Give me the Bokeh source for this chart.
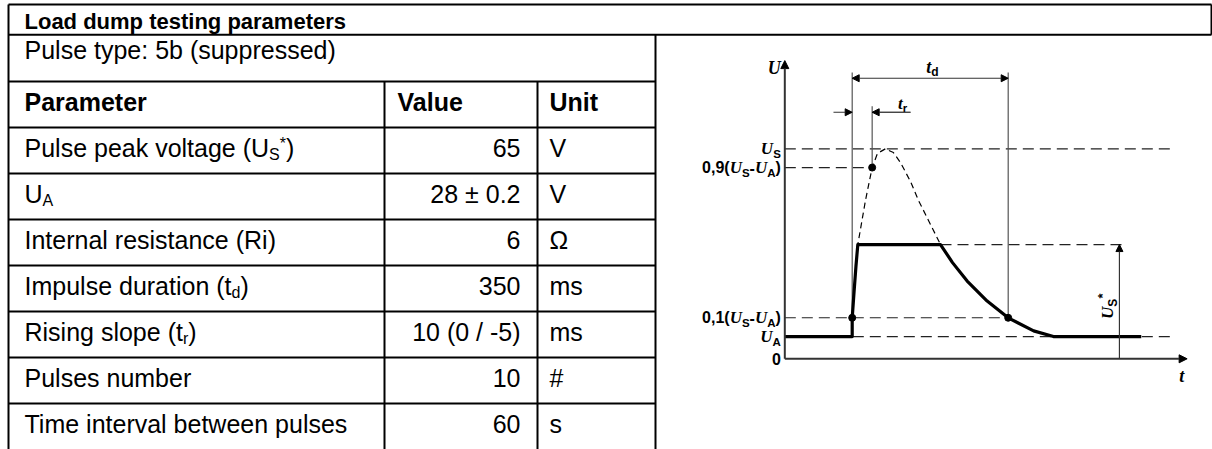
import math
from bokeh.plotting import figure
from bokeh.models import Range1d, Arrow, NormalHead
from bokeh.embed import file_html
from bokeh.resources import INLINE
from bokeh.core.properties import value

# ---------------- table content ----------------
TITLE = "Load dump testing parameters"
PULSE_TYPE = "Pulse type: 5b (suppressed)"
HEADERS = ["Parameter", "Value", "Unit"]
# parameter names as rich-text runs: (text, kind) kind: n = normal, sub, sup
PARAMETERS = [
    [("Pulse peak voltage (U", "n"), ("S", "sub"), ("*", "sup"), (")", "n")],
    [("U", "n"), ("A", "sub")],
    [("Internal resistance (Ri)", "n")],
    [("Impulse duration (t", "n"), ("d", "sub"), (")", "n")],
    [("Rising slope (t", "n"), ("r", "sub"), (")", "n")],
    [("Pulses number", "n")],
    [("Time interval between pulses", "n")],
]
VALUES = ["65", "28 \u00b1 0.2", "6", "350", "10 (0 / -5)", "10", "60"]
UNITS = ["V", "V", "\u03a9", "ms", "ms", "#", "s"]

# ---------------- pulse diagram (schematic units: t_d = 100, U_S = 100) ----------------
U_S = 100.0
U_A = 10.6
U_S_STAR = 54.4
LEVEL_01 = U_A + 0.1 * (U_S - U_A)
LEVEL_09 = U_A + 0.9 * (U_S - U_A)
T_D = 100.0
T_09 = 12.8
T_AXIS = -43.2          # time where the U axis stands
T_AXIS_END = 214.7      # end of the t axis
U_AXIS_TOP = 142.0
T_PLATEAU_END = 56.6
T_LINE_END = 207.2      # end of long dashed reference lines
T_STAR_LINE_END = 175.8
T_STAR_ARROW = 171.3
U_TD_ARROW = 133.6
U_TD_TOP = 136.3
U_TR_ARROW = 117.4
U_TR_TOP = 120.3
T_TR_LEFT = -12.0
T_TR_RIGHT = 37.4

# suppressed pulse (solid, thick)
SUPP_T = [-43.2, 0.0, 0.0, 1.2, 2.4, 3.6, 56.6, 64.3, 73.7, 86.5, 100.0, 116.3, 129.0, 185.3]
SUPP_U = [10.6, 10.6, 19.5, 32.0, 44.0, 54.4, 54.4, 45.8, 37.0, 27.5, 19.5, 13.3, 10.6, 10.6]
# unsuppressed pulse (dashed)
FREE_T = [0.0, 3.6, 8.5, 12.8, 16.2, 21.3, 26.4, 30.9, 37.4, 42.5, 48.9, 56.6]
FREE_U = [19.5, 54.4, 75.4, 91.1, 97.8, 100.0, 98.2, 93.5, 84.4, 75.4, 65.9, 54.4]

LEVEL_VALUES = [U_S, LEVEL_09, LEVEL_01, U_A, 0.0]
LEVEL_LABELS = [
    [("U", "I"), ("S", "s")],
    [("0,9(", "B"), ("U", "I"), ("S", "s"), ("-", "B"), ("U", "I"), ("A", "s"), (")", "B")],
    [("0,1(", "B"), ("U", "I"), ("S", "s"), ("-", "B"), ("U", "I"), ("A", "s"), (")", "B")],
    [("U", "I"), ("A", "s")],
    [("0", "B")],
]

# ---------------- font metrics (Arial / Times compatible, per 1000 em) ----------------
MET = {
    "reg": {" ": 278, "(": 333, ")": 333, "*": 389, "A": 667, "I": 278, "P": 667, "R": 722,
            "S": 667, "U": 722, "a": 556, "c": 500, "d": 556, "e": 556, "g": 556, "i": 222,
            "k": 500, "l": 222, "m": 833, "n": 556, "o": 556, "p": 556, "r": 333, "s": 500,
            "t": 278, "u": 556, "v": 500, "y": 500},
    "bold": {"0": 556, "1": 556, "9": 556, ",": 278, "(": 333, ")": 333, "-": 333,
             "S": 667, "A": 722, "d": 611, "r": 389, "*": 389},
    "bi": {"U": 722, "t": 278},
}
# distance from baseline to em-box middle (fraction of font size)
MID = {"Liberation Sans": 0.3465, "Liberation Serif": 0.3375}

SANS = "Liberation Sans"
SERIF = "Liberation Serif"


def tw(s, metric, size):
    return sum(MET[metric].get(c, 556) for c in s) * size / 1000.0


# ---------------- figure (coordinates = reference pixel grid) ----------------
W, H = 1212, 449
X0, X1 = 0.0, 1212.0
YB, YT = 449.0, 0.0
p = figure(width=W, height=H, x_range=Range1d(X0, X1), y_range=Range1d(YB, YT),
           x_axis_type=None, y_axis_type=None, output_backend="svg",
           toolbar_location=None, min_border=0)
p.outline_line_color = None
p.background_fill_color = "white"
p.border_fill_color = "white"

# diagram ranges
OX, SX = 851.7, 1.56
OY, SY = 358.3, 2.1
p.extra_x_ranges = {"t": Range1d((X0 - OX) / SX, (X1 - OX) / SX)}
p.extra_y_ranges = {"u": Range1d((OY - YB) / SY, (OY - YT) / SY)}


def DX(t):
    return OX + SX * t


def DY(u):
    return OY - SY * u


def piece(x, y, txt, fam, style, size, angle=0.0, align="left"):
    # (x, y) = start of the text on its baseline
    m = MID[fam] * size
    if angle == 0.0:
        xm, ym = x, y - m
    else:
        xm, ym = x - m, y
    p.text(x=[xm], y=[ym], text=[txt], text_font=value(fam), text_font_style=style,
           text_font_size=f"{size}px", text_align=align, text_baseline="middle",
           text_color="black", angle=angle)


def run(x, y, pieces, align="left", angle=0.0):
    # pieces: (text, family, style, size, metric, dy)
    total = sum(tw(t, m, sz) for (t, f, st, sz, m, dy) in pieces)
    if angle == 0.0:
        cx = x - total if align == "right" else (x - total / 2 if align == "center" else x)
        for (t, f, st, sz, m, dy) in pieces:
            piece(cx, y + dy, t, f, st, sz)
            cx += tw(t, m, sz)
    else:
        cy = y
        for (t, f, st, sz, m, dy) in pieces:
            piece(x + dy, cy, t, f, st, sz, angle)
            cy -= tw(t, m, sz)


# ---------------- table ----------------
COL = [8.0, 384.0, 537.0, 655.0]
TOP, TITLE_BOT, TYPE_BOT, HEAD_BOT, ROW_H, BOTTOM = 4.0, 34.3, 81.0, 127.0, 46.0, 449.0
TITLE_RIGHT = 1211.0
FS = 25
BASE_OFF = 29.0

hx0 = [COL[0], COL[0], COL[0]]
hx1 = [TITLE_RIGHT, TITLE_RIGHT, COL[3]]
hy = [TOP, TITLE_BOT, TYPE_BOT]
for i in range(len(VALUES)):
    hx0.append(COL[0]); hx1.append(COL[3]); hy.append(HEAD_BOT + i * ROW_H)
p.segment(x0=hx0, y0=hy, x1=hx1, y1=hy, line_color="black", line_width=2)
vx = [COL[0], COL[1], COL[2], COL[3], TITLE_RIGHT]
vy0 = [TOP, TYPE_BOT, TYPE_BOT, TITLE_BOT, TOP]
vy1 = [BOTTOM, BOTTOM, BOTTOM, BOTTOM, TITLE_BOT]
p.segment(x0=vx, y0=vy0, x1=vx, y1=vy1, line_color="black", line_width=2)

PAD_L = 24.0
VAL_R = 520.0
UNIT_L = 549.0
HEAD_L = 397.0

piece(PAD_L, 28.5, TITLE, SANS, "bold", 22)
piece(PAD_L, 58.0, PULSE_TYPE, SANS, "normal", FS)
hb = TYPE_BOT + BASE_OFF
piece(PAD_L, hb, HEADERS[0], SANS, "bold", FS)
piece(HEAD_L, hb, HEADERS[1], SANS, "bold", FS)
piece(UNIT_L, hb, HEADERS[2], SANS, "bold", FS)

KIND = {"n": (FS, 0.0), "sub": (16, 4.0), "sup": (16, -7.0)}
for i, runs in enumerate(PARAMETERS):
    base = HEAD_BOT + i * ROW_H + BASE_OFF
    pcs = [(t, SANS, "normal", KIND[k][0], "reg", KIND[k][1]) for (t, k) in runs]
    run(PAD_L, base, pcs)
    piece(VAL_R, base, VALUES[i], SANS, "normal", FS, align="right")
    piece(UNIT_L, base, UNITS[i], SANS, "normal", FS)

# ---------------- diagram ----------------
R = dict(x_range_name="t", y_range_name="u")
DASH = "11 6"

# dashed reference levels
p.segment(x0=[T_AXIS, T_AXIS, T_PLATEAU_END, T_AXIS, T_AXIS],
          x1=[T_LINE_END, T_09, T_STAR_LINE_END, T_D, T_LINE_END],
          y0=[U_S, LEVEL_09, U_S_STAR, LEVEL_01, U_A],
          y1=[U_S, LEVEL_09, U_S_STAR, LEVEL_01, U_A],
          line_color="#222222", line_width=1.2, line_dash=DASH, **R)

# thin vertical marker lines
p.segment(x0=[0.0, T_D, T_09], x1=[0.0, T_D, T_09],
          y0=[LEVEL_01, LEVEL_01, LEVEL_09], y1=[U_TD_TOP, U_TD_TOP, U_TR_TOP],
          line_color="#555555", line_width=1.2, **R)
# t_r underline
p.segment(x0=[T_09], x1=[T_TR_RIGHT], y0=[U_TR_ARROW], y1=[U_TR_ARROW],
          line_color="#555555", line_width=1.2, **R)

# unsuppressed pulse (dashed) and suppressed pulse (solid)
p.line(FREE_T, FREE_U, line_color="black", line_width=1.2, line_dash="6 4", **R)
p.line(SUPP_T, SUPP_U, line_color="black", line_width=3.2, line_join="round", **R)

# marker dots
p.scatter(x=[0.0, T_09, T_D], y=[LEVEL_01, LEVEL_09, LEVEL_01], size=7,
          fill_color="black", line_color="black", **R)


def arrow(x0, y0, x1, y1, lw=1.2, size=7, both=False, color="#333333"):
    head = lambda: NormalHead(size=size, fill_color="black", line_color="black", line_width=1)
    a = Arrow(x_start=x0, y_start=y0, x_end=x1, y_end=y1, line_color=color, line_width=lw,
              end=head(), start=head() if both else None, **R)
    p.add_layout(a)


arrow(T_AXIS, 0.0, T_AXIS, U_AXIS_TOP, lw=2, size=8)
arrow(T_AXIS, 0.0, T_AXIS_END, 0.0, lw=2, size=8)
arrow(T_STAR_ARROW, 0.0, T_STAR_ARROW, U_S_STAR)
arrow(0.0, U_TD_ARROW, T_D, U_TD_ARROW, both=True)
arrow(T_TR_LEFT, U_TR_ARROW, 0.0, U_TR_ARROW)
arrow(T_TR_RIGHT, U_TR_ARROW, T_09, U_TR_ARROW)

# labels
DSTY = {"I": (SERIF, "bold italic", 17, "bi", 0.0),
        "B": (SANS, "bold", 16, "bold", 0.0),
        "s": (SANS, "bold", 11.5, "bold", 3.5)}


def mk(parts):
    return [(t,) + DSTY[k] for (t, k) in parts]


LBL_R = DX(T_AXIS) - 4.0
for lv, parts in zip(LEVEL_VALUES, LEVEL_LABELS):
    run(LBL_R, DY(lv) + 5.5, mk(parts), align="right")

run(LBL_R, DY(U_AXIS_TOP) + 13.0, [("U", SERIF, "bold italic", 18, "bi", 0.0)], align="right")
run(DX(T_AXIS_END) - 8.0, DY(0.0) + 23.5, [("t", SERIF, "bold italic", 18, "bi", 0.0)])
run(DX(T_D / 2) - 4.0, DY(U_TD_TOP) + 0.5,
    [("t", SERIF, "bold italic", 18, "bi", 0.0), ("d", SANS, "bold", 12, "bold", 3.5)])
run(DX(T_TR_RIGHT) - 12.5, DY(U_TR_ARROW) - 3.5,
    [("t", SERIF, "bold italic", 17, "bi", 0.0), ("r", SANS, "bold", 11.5, "bold", 3.0)])
run(DX(T_STAR_ARROW) - 6.0, DY(19.0),
    [("U", SERIF, "bold italic", 17, "bi", 0.0), ("S", SANS, "bold", 12, "bold", 3.5),
     ("*", SANS, "bold", 13, "bold", -6.0)], angle=math.pi / 2)

open("out.html", "w").write(file_html(p, INLINE))
